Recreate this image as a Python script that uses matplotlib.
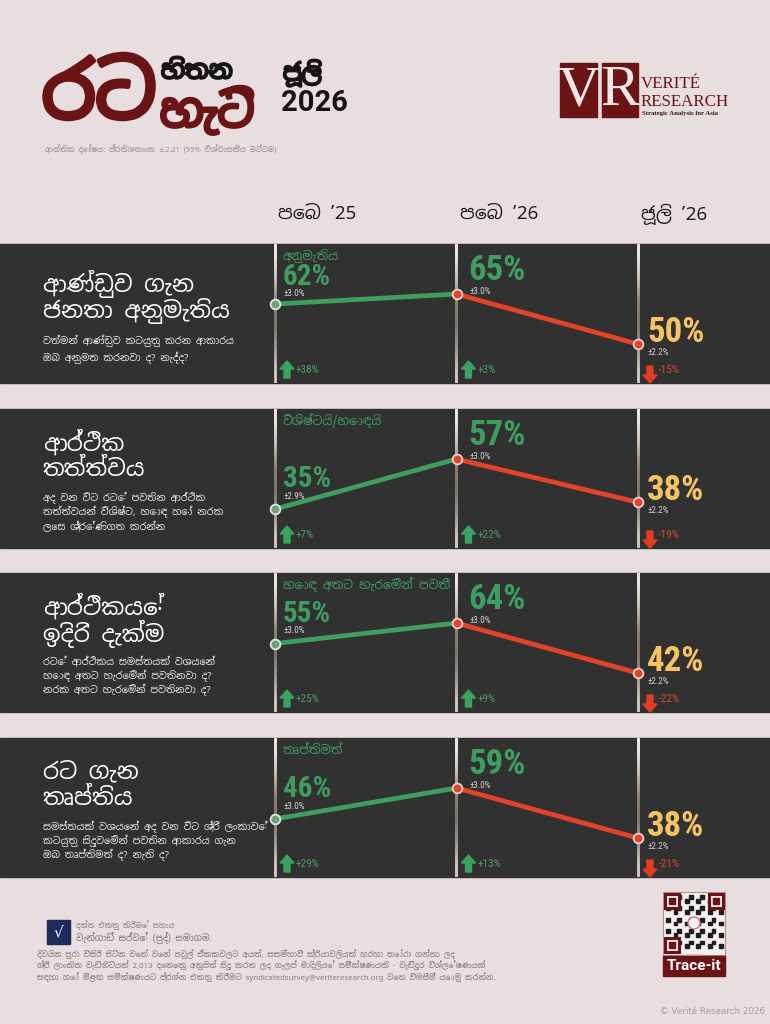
import matplotlib
matplotlib.use("Agg")
import matplotlib.pyplot as plt
from matplotlib import font_manager as fm
from matplotlib.patches import Rectangle, Polygon, Circle
import matplotlib.patheffects as pe
import numpy as np

# ------------------------------------------------------------------ data
periods = ["පෙබ ’25", "පෙබ ’26", "ජූලි ’26"]

titles = [["ආණ්ඩුව ගැන", "ජනතා අනුමැතිය"],
          ["ආර්ථික", "තත්ත්වය"],
          ["ආර්ථිකයේ", "ඉදිරි දැක්ම"],
          ["රට ගැන", "තෘප්තිය"]]

questions = [["වත්මන් ආණ්ඩුව කටයුතු කරන ආකාරය", "ඔබ අනුමත කරනවා ද? නැද්ද?"],
             ["අද වන විට රටේ පවතින ආර්ථික", "තත්ත්වයන් විශිෂ්ට, හොඳ හෝ නරක",
              "ලෙස ශ්‍රේණිගත කරන්න"],
             ["රටේ ආර්ථිකය සමස්තයක් වශයෙන්", "හොඳ අතට හැරෙමින් පවතිනවා ද?",
              "නරක අතට හැරෙමින් පවතිනවා ද?"],
             ["සමස්තයක් වශයෙන් අද වන විට ශ්‍රී ලංකාවේ", "කටයුතු සිදුවෙමින් පවතින ආකාරය ගැන",
              "ඔබ තෘප්තිමත් ද? නැති ද?"]]

measure_labels = ["අනුමැතිය", "විශිෂ්ටයි/හොඳයි", "හොඳ අතට හැරෙමින් පවතී", "තෘප්තිමත්"]

approval = [62, 65, 50]
economy = [35, 57, 38]
outlook = [55, 64, 42]
satisfaction = [46, 59, 38]

approval_moe = [3.0, 3.0, 2.2]
economy_moe = [2.9, 3.0, 2.2]
outlook_moe = [3.0, 3.0, 2.2]
satisfaction_moe = [3.0, 3.0, 2.2]

approval_change = [38, 3, -15]
economy_change = [7, 22, -19]
outlook_change = [25, 9, -22]
satisfaction_change = [29, 13, -21]

series = [approval, economy, outlook, satisfaction]
moes = [approval_moe, economy_moe, outlook_moe, satisfaction_moe]
changes = [approval_change, economy_change, outlook_change, satisfaction_change]

header_sub = "ආන්තික දෝෂය: ප්‍රතිශතාංක ±2.21 (95% විශ්වාසනීය මට්ටම)"
footer_lines = [
    "දිවයින පුරා විසිරී සිටින වෙන් වෙන් පවුල් ඒකකවලට අයත්, සසම්භාවී ක්‍රියාවලියක් හරහා තෝරා ගන්නා ලද",
    "ශ්‍රී ලාංකික වැඩිහිටියන් 2,013 දෙනෙකු අනුපිත් සිදු කරන ලද ගැලප් මාදිලියේ සමීක්ෂණයකි - වැඩිදුර විශ්ලේෂණයක්",
    "සඳහා හෝ මීළඟ සමීක්ෂණයට ප්‍රශ්න එකතු කිරීමට syndicatedsurvey@veriteresearch.org වෙත විමසීම් යොමු කරන්න.",
]

# ------------------------------------------------------------------ fonts
names = {f.name for f in fm.fontManager.ttflist}


def find_sinhala():
    cands = sorted({f.name for f in fm.fontManager.ttflist if "sinhala" in f.name.lower()})
    for pref in ("Noto Sans Sinhala", "Noto Sans Sinhala UI"):
        if pref in cands:
            return pref
    if cands:
        return cands[0]
    try:
        from fontTools.ttLib import TTFont
    except Exception:
        return None
    seen = set()
    for f in fm.fontManager.ttflist:
        if f.fname in seen or "CJK" in f.name:
            continue
        seen.add(f.fname)
        try:
            tt = TTFont(f.fname, fontNumber=0, lazy=True)
            cm = tt.getBestCmap()
            if cm and 0x0DBB in cm and 0x0DA7 in cm:
                return f.name
        except Exception:
            pass
    return None


def pick(*cands):
    for c in cands:
        if c in names:
            return c
    return "DejaVu Sans"


sin = find_sinhala()
SIN = ([sin] if sin else []) + ["DejaVu Sans"]
NARROW = pick("Liberation Sans Narrow", "Roboto Condensed", "DejaVu Sans")
ROBOTO = pick("Roboto", "DejaVu Sans")
SERIF = pick("Liberation Serif", "DejaVu Serif")

# ------------------------------------------------------------------ colours
BG = "#e8dedf"
PANEL = "#313131"
GREEN = "#3f9d5f"
GREEN_DIM = "#4f9a68"
RED = "#e4432b"
YELLOW = "#f6c363"
DARKRED = "#6b1416"

W, H = 770, 1024
fig = plt.figure(figsize=(W / 100, H / 100), dpi=100)
fig.patch.set_facecolor(BG)

deco = fig.add_axes([0, 0, 1, 1])
deco.set_xlim(0, W)
deco.set_ylim(H, 0)
deco.axis("off")
deco.set_facecolor("none")


def T(x, y, s, **kw):
    kw.setdefault("va", "center")
    kw.setdefault("ha", "left")
    return deco.text(x, y, s, **kw)


# ------------------------------------------------------------------ header
heavy_red = [pe.withStroke(linewidth=3.5, foreground=DARKRED)]
heavy_blk = [pe.withStroke(linewidth=1.6, foreground="#151515")]
T(42, 98, "රට", family=SIN, fontsize=55, fontweight="bold", color=DARKRED,
  path_effects=heavy_red)
T(161, 72, "හිතන", family=SIN, fontsize=18, fontweight="bold", color="#151515",
  path_effects=heavy_blk)
T(160, 114, "හැටි", family=SIN, fontsize=33, fontweight="bold", color=DARKRED,
  path_effects=[pe.withStroke(linewidth=2.5, foreground=DARKRED)])
T(283, 73, "ජූලි", family=SIN, fontsize=17, fontweight="bold", color="#151515",
  path_effects=heavy_blk)
T(281, 103, "2026", family=ROBOTO, fontsize=21, fontweight="bold", color="#151515")
T(45, 149, header_sub, family=SIN, fontsize=5.4, color="#9a8f8f")

# Verité logo
deco.add_patch(Rectangle((560, 63), 37, 54, color=DARKRED, zorder=2))
deco.add_patch(Rectangle((602, 63), 36, 54, color=DARKRED, zorder=2))
T(578.5, 91, "V", family=SERIF, fontsize=42, color="#f1e6e6", ha="center", zorder=3)
T(620, 91, "R", family=SERIF, fontsize=42, color="#f1e6e6", ha="center", zorder=3)
T(641, 84, "VERITÉ", family=SERIF, fontsize=12.2, color=DARKRED)
T(641, 102, "RESEARCH", family=SERIF, fontsize=12.2, color=DARKRED)
T(642, 114, "Strategic Analysis for Asia", family=SERIF, fontsize=4.9,
  fontweight="bold", color="#3a1515")

# column headers
x0, dx = 275.0, 181.5
col_px = [x0 + i * dx for i in range(3)]
for i, p in enumerate(periods):
    T(col_px[i] + 3, 214, p, family=SIN, fontsize=13.5, color="#1b1b1b")

# ------------------------------------------------------------------ panels
tops = [244, 409, 573, 738]
PH = 139


def arrow(cx, ybase, up, color):
    hw, sw, hh, L = 7, 3, 8, 17
    if up:
        yt, yb = ybase - L, ybase
        pts = [(cx, yt), (cx + hw, yt + hh), (cx + sw, yt + hh), (cx + sw, yb),
               (cx - sw, yb), (cx - sw, yt + hh), (cx - hw, yt + hh)]
    else:
        yt, yb = ybase - L + 5, ybase + 5
        pts = [(cx, yb), (cx + hw, yb - hh), (cx + sw, yb - hh), (cx + sw, yt),
               (cx - sw, yt), (cx - sw, yb - hh), (cx - hw, yb - hh)]
    deco.add_patch(Polygon(pts, closed=True, color=color, zorder=4))


grad = np.array([[0.92, 0.90, 0.88], [0.78, 0.74, 0.70], [0.55, 0.50, 0.46],
                 [0.50, 0.46, 0.42], [0.62, 0.58, 0.55], [0.80, 0.77, 0.74]])
grad_img = grad[:, None, :]

for k, top in enumerate(tops):
    bot = top + PH
    deco.add_patch(Rectangle((0, top), W, PH, color=PANEL, zorder=1))

    # left text
    nq = len(questions[k])
    if nq == 2:
        ty, qy = [top + 40, top + 67], [top + 97, top + 114]
    else:
        ty, qy = [top + 34, top + 61], [top + 89, top + 103, top + 117]
    for s, y in zip(titles[k], ty):
        T(43, y, s, family=SIN, fontsize=16.5, color="white", zorder=3)
    for s, y in zip(questions[k], qy):
        T(43, y, s, family=SIN, fontsize=7.0, color="#e9e6e6", zorder=3)

    # measure label
    T(col_px[0] + 8, top + 12, measure_labels[k], family=SIN, fontsize=8.8,
      color=GREEN, zorder=3)

    # change indicators
    for i, c in enumerate(changes[k]):
        up = c >= 0
        cx = col_px[i] + 12
        arrow(cx, bot - 5, up, "#3aa35f" if up else "#e23d22")
        T(cx + 9, bot - 13, f"{c:+d}%", family=NARROW, fontsize=8,
          color=GREEN_DIM if up else "#d5492f", zorder=4)

    # chart axes for this panel
    vals = series[k]
    ax = fig.add_axes([0, 1 - bot / H, 1, PH / H])
    ax.set_facecolor("none")
    ax.axis("off")
    xl = (-x0 / dx, (W - x0) / dx)
    lo, hi = min(vals), max(vals)
    rng = (hi - lo) / 0.36
    ymin = lo - 0.28 * rng
    yl = (ymin, ymin + rng)

    # gradient column lines
    hw_line = 1.2 / dx
    for i in range(3):
        ax.imshow(grad_img, extent=(i - hw_line, i + hw_line, yl[0], yl[1]),
                  aspect="auto", interpolation="bilinear", zorder=1)

    xs = list(range(len(vals)))
    for i in range(len(vals) - 1):
        col = GREEN if vals[i + 1] >= vals[i] else RED
        ax.plot(xs[i:i + 2], vals[i:i + 2], color=col, lw=3.4,
                solid_capstyle="butt", zorder=2)
    ax.plot(xs[0], vals[0], "o", ms=7, mfc="#6f9f7c", mec="#dfe6e0", mew=1.3, zorder=3)
    ax.plot(xs[1:], vals[1:], "o", ls="none", ms=7, mfc=RED, mec="#f1d2cc",
            mew=1.3, zorder=3)
    ax.set_xlim(*xl)
    ax.set_ylim(*yl)

    # value labels (positioned from the plotted points)
    for i, v in enumerate(vals):
        px, py = ax.transData.transform((i, v))
        yp = H - py
        if i == 0:
            yv = max(yp - 30, top + 33)
            ym = min(yv + 17, yp - 7)
            xv, fs = px + 8, 21
        elif i == 1:
            yv, ym = yp - 24, yp - 3
            xv, fs = px + 12, 25
        else:
            yv, ym = yp - 12, yp + 8
            xv, fs = px + 9, 25
        T(xv, yv, f"{v}%", family=NARROW, fontweight="bold", fontsize=fs,
          color=YELLOW if i == len(vals) - 1 else GREEN, zorder=5)
        T(xv + 1, ym, f"±{moes[k][i]:.1f}%", family=NARROW, fontsize=6.6,
          color="#d2d2d2", zorder=5)

# ------------------------------------------------------------------ footer
deco.add_patch(Rectangle((47, 920), 23, 24, color="#1d2b5c", zorder=2))
T(58.5, 932, "√", fontsize=11, color="white", ha="center", zorder=3)
T(76, 925, "දත්ත එකතු කිරීමේ සහාය", family=SIN, fontsize=5.4, color="#8d8383")
T(76, 938, "වැන්ගාඩ් සර්වේ (පුද්) සමාගම.", family=SIN, fontsize=6.5, color="#7d7373")
for j, s in enumerate(footer_lines):
    T(37, 954 + j * 11.5, s, family=SIN, fontsize=5.6, color="#857b7b")

# QR block (decorative)
deco.add_patch(Rectangle((663, 892), 62, 63, facecolor="#f4f0f0", edgecolor="#b58f8f",
                         lw=0.8, zorder=2))
for i in range(15):
    for j in range(15):
        if (i * 7 + j * 11 + i * j) % 3 == 0:
            deco.add_patch(Rectangle((666 + i * 3.8, 895 + j * 3.8), 3.8, 3.8,
                                     color="#1e1e1e", zorder=3))
for (fx, fy) in [(665, 894), (709, 894), (665, 938)]:
    deco.add_patch(Rectangle((fx, fy), 14, 14, facecolor="#f4f0f0",
                             edgecolor=DARKRED, lw=2.2, zorder=4))
    deco.add_patch(Rectangle((fx + 4, fy + 4), 6, 6, color=DARKRED, zorder=5))
deco.add_patch(Circle((694, 923), 6, facecolor="#f4f0f0", edgecolor="#c77", lw=1, zorder=5))
deco.add_patch(Polygon([(686, 955), (702, 955), (694, 962)], color="#c9b5b5", zorder=3))
deco.add_patch(Rectangle((663, 956), 62, 20, color=DARKRED, zorder=4))
T(694, 966, "Trace-it", family=ROBOTO, fontsize=11, fontweight="bold", color="white",
  ha="center", zorder=5)
T(765, 1012, "© Verité Research 2026", fontsize=6.3, color="#a79c9c", ha="right")

fig.savefig("out.png", dpi=100, facecolor=BG)
